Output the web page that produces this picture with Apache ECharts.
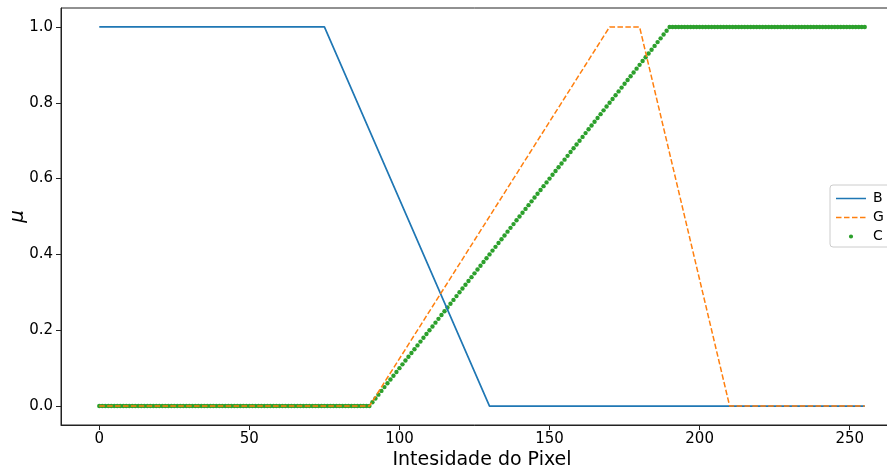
<!DOCTYPE html>
<html>
<head>
<meta charset="utf-8">
<script src="https://cdn.jsdelivr.net/npm/echarts@6/dist/echarts.min.js"></script>
<style>html,body{margin:0;padding:0;background:#fff}#c{width:887px;height:468px}</style>
</head>
<body>
<div id="c"></div>
<script>
// Data
const seriesNames = ['B', 'G', 'C'];
const xTicks = [0, 50, 100, 150, 200, 250];
const yTicks = [0, 0.2, 0.4, 0.6, 0.8, 1.0];
// B and G: breakpoints [intensity, mu]
const bPoints = [[0, 1], [75, 1], [130, 0], [255, 0]];
const gPoints = [[0, 0], [90, 0], [170, 1], [180, 1], [210, 0], [255, 0]];
// C: mu for every pixel intensity 0..255
const cValues = [
0,0,0,0,0,0,0,0,0,0, 0,0,0,0,0,0,0,0,0,0, 0,0,0,0,0,0,0,0,0,0,
0,0,0,0,0,0,0,0,0,0, 0,0,0,0,0,0,0,0,0,0, 0,0,0,0,0,0,0,0,0,0,
0,0,0,0,0,0,0,0,0,0, 0,0,0,0,0,0,0,0,0,0, 0,0,0,0,0,0,0,0,0,0,
0,0.01,0.02,0.03,0.04,0.05,0.06,0.07,0.08,0.09,
0.10,0.11,0.12,0.13,0.14,0.15,0.16,0.17,0.18,0.19,
0.20,0.21,0.22,0.23,0.24,0.25,0.26,0.27,0.28,0.29,
0.30,0.31,0.32,0.33,0.34,0.35,0.36,0.37,0.38,0.39,
0.40,0.41,0.42,0.43,0.44,0.45,0.46,0.47,0.48,0.49,
0.50,0.51,0.52,0.53,0.54,0.55,0.56,0.57,0.58,0.59,
0.60,0.61,0.62,0.63,0.64,0.65,0.66,0.67,0.68,0.69,
0.70,0.71,0.72,0.73,0.74,0.75,0.76,0.77,0.78,0.79,
0.80,0.81,0.82,0.83,0.84,0.85,0.86,0.87,0.88,0.89,
0.90,0.91,0.92,0.93,0.94,0.95,0.96,0.97,0.98,0.99,
1,1,1,1,1,1,1,1,1,1, 1,1,1,1,1,1,1,1,1,1, 1,1,1,1,1,1,1,1,1,1,
1,1,1,1,1,1,1,1,1,1, 1,1,1,1,1,1,1,1,1,1, 1,1,1,1,1,1,1,1,1,1,
1,1,1,1,1,1
];
const xLabel = 'Intesidade do Pixel';
const yLabel = 'μ';

const FONT = 'DejaVu Sans';
const cPoints = cValues.map((v, i) => [i, v]);

const corners = 'M0,0h0.01v0.01h-0.01z M31.99,7.99h0.01v0.01h-0.01z ';
const iconB = 'path://' + corners + 'M0,3.25h30v1.5h-30z';
const iconG = 'path://' + corners + 'M0,3.25h5.5v1.5h-5.5z M8,3.25h5.5v1.5h-5.5z M16,3.25h5.5v1.5h-5.5z M24,3.25h5.5v1.5h-5.5z';
const iconC = 'path://' + corners + 'M12.9,4a2.1,2.1 0 1,0 4.2,0a2.1,2.1 0 1,0 -4.2,0z';

const chart = echarts.init(document.getElementById('c'), null, {renderer: 'canvas'});
chart.setOption({
  animation: false,
  backgroundColor: '#fff',
  grid: {left: 61, right: -16, top: 8, bottom: 43, outerBoundsMode: 'none', containLabel: false,
    show: true, borderColor: '#222', borderWidth: 1, backgroundColor: 'transparent'},
  xAxis: {
    type: 'value', min: -12.75, max: 267.75,
    name: xLabel, nameLocation: 'middle', nameGap: 26, nameMoveOverlap: false,
    nameTextStyle: {fontFamily: FONT, fontSize: 19, color: '#000'},
    axisLine: {show: true, onZero: false, lineStyle: {color: '#222', width: 1}},
    axisTick: {show: true, length: 5, customValues: xTicks, lineStyle: {color: '#222'}},
    axisLabel: {customValues: xTicks, fontFamily: FONT, fontSize: 15, color: '#000', margin: 7},
    splitLine: {show: false}
  },
  yAxis: {
    type: 'value', min: -0.05, max: 1.05,
    name: yLabel, nameLocation: 'middle', nameGap: 33, nameRotate: 90, nameMoveOverlap: false,
    nameTextStyle: {fontFamily: FONT, fontSize: 20, fontStyle: 'italic', color: '#000'},
    axisLine: {show: true, onZero: false, lineStyle: {color: '#222', width: 1}},
    axisTick: {show: true, length: 5, customValues: yTicks, lineStyle: {color: '#222'}},
    axisLabel: {customValues: yTicks, fontFamily: FONT, fontSize: 15, color: '#000', margin: 8,
      formatter: v => v.toFixed(1)},
    splitLine: {show: false}
  },
  legend: {
    orient: 'vertical', left: 830, top: 185,
    padding: [6, 30, 3, 6], itemGap: 4,
    itemWidth: 32, itemHeight: 8,
    backgroundColor: '#fff', borderColor: '#ccc', borderWidth: 1, borderRadius: 3,
    textStyle: {fontFamily: FONT, fontSize: 14, color: '#000', lineHeight: 15},
    data: [
      {name: 'B', icon: iconB, itemStyle: {color: '#1f77b4'}},
      {name: 'G', icon: iconG, itemStyle: {color: '#ff7f0e'}},
      {name: 'C', icon: iconC, itemStyle: {color: '#2ca02c'}}
    ]
  },
  series: [
    {name: seriesNames[0], type: 'line', data: bPoints, showSymbol: false, symbol: 'none',
      lineStyle: {color: '#1f77b4', width: 1.7}, itemStyle: {color: '#1f77b4'}},
    {name: seriesNames[1], type: 'line', data: gPoints, showSymbol: false, symbol: 'none',
      lineStyle: {color: '#ff7f0e', width: 1.5, type: [5.5, 2.4]}, itemStyle: {color: '#ff7f0e'}},
    {name: seriesNames[2], type: 'scatter', data: cPoints, symbol: 'circle', symbolSize: 4.4,
      itemStyle: {color: '#2ca02c', opacity: 1}}
  ]
});
</script>
</body>
</html>
